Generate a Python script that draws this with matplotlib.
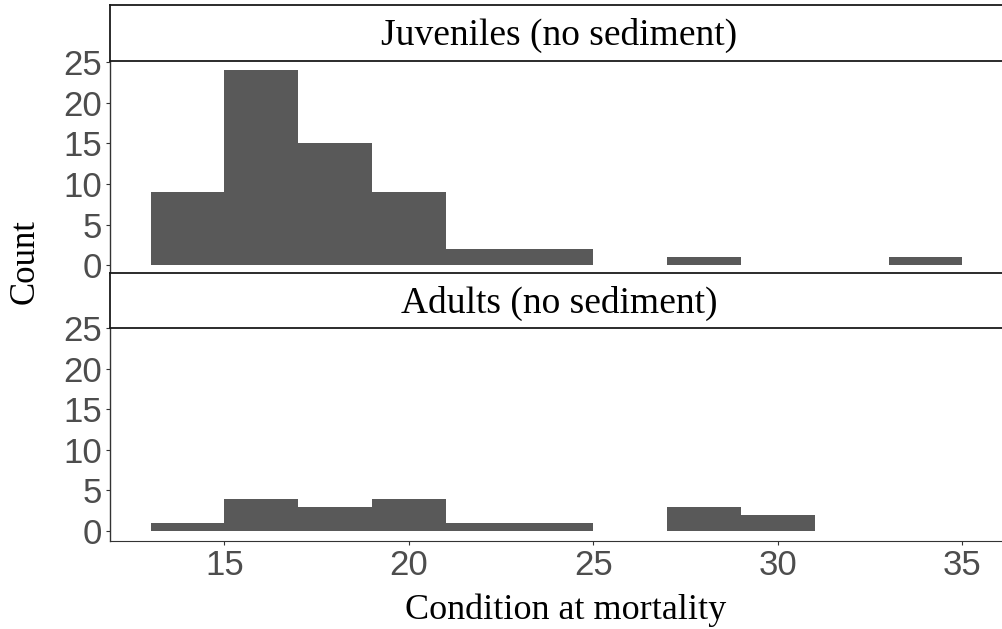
import numpy as np
import matplotlib
matplotlib.use("Agg")
import matplotlib.pyplot as plt

# histogram data (bin width 2, starting at 13)
bin_left = [13, 15, 17, 19, 21, 23, 25, 27, 29, 31, 33]
juveniles = [9, 24, 15, 9, 2, 2, 0, 1, 0, 0, 1]
adults = [1, 4, 3, 4, 1, 1, 0, 3, 2, 0, 0]
panel_titles = ["Juveniles (no sediment)", "Adults (no sediment)"]
xticks = [15, 20, 25, 30, 35]
yticks = [0, 5, 10, 15, 20, 25]

W, H = 1002, 629
fig = plt.figure(figsize=(W / 100, H / 100), dpi=100)

serif = "Liberation Serif"
sans = "Liberation Sans"
grey = "#4D4D4D"

def box(x0, y0, x1, y1):
    # pixel coords (top-left origin) -> figure fraction rect
    return [x0 / W, 1 - y1 / H, (x1 - x0) / W, (y1 - y0) / H]

# (strip top, strip bottom, panel top, panel bottom, counts)
panels = [(5, 60.7, 60.4, 275.1, juveniles), (273, 328.3, 326.7, 540.7, adults)]
for i, (st, sb, pt, pb, counts) in enumerate(panels):
    ax = fig.add_axes(box(110, pt, 1003, pb))
    ax.bar(bin_left, counts, width=2, align="edge", color="#595959", linewidth=0)
    ax.set_xlim(11.9, 36.1)
    ax.set_ylim(-1.2, 25.2)
    ax.patch.set_alpha(0)
    for s in ["top", "right"]:
        ax.spines[s].set_visible(False)
    ax.spines["left"].set_color("#333333")
    ax.spines["bottom"].set_color("#333333")
    ax.spines["left"].set_linewidth(1.0)
    ax.set_yticks(yticks)
    ax.set_xticks(xticks)
    ax.tick_params(axis="both", length=3, width=0.8, color="#333333",
                   labelcolor=grey, labelsize=25)
    ax.tick_params(axis="y", pad=3)
    ax.tick_params(axis="x", pad=3)
    for lab in ax.get_xticklabels() + ax.get_yticklabels():
        lab.set_family(sans)
    if i == 0:
        ax.spines["bottom"].set_visible(False)
        ax.tick_params(axis="x", bottom=False, labelbottom=False)

    # strip on top of the panel
    sax = fig.add_axes(box(110, st, 1003, sb))
    sax.set_xticks([]); sax.set_yticks([])
    for s in sax.spines.values():
        s.set_linewidth(1.3)
        s.set_color("#1a1a1a")
    fig.text(559 / W, 1 - (st + 40) / H, panel_titles[i], ha="center", va="baseline",
             fontsize=27, family=serif)

fig.text(25 / W, 1 - 262 / H, "Count", rotation=90, ha="center", va="center",
         fontsize=25, family=serif)
fig.text(566 / W, 1 - 619.3 / H, "Condition at mortality", ha="center", va="baseline",
         fontsize=26, family=serif)

fig.savefig("out.png", dpi=100)
